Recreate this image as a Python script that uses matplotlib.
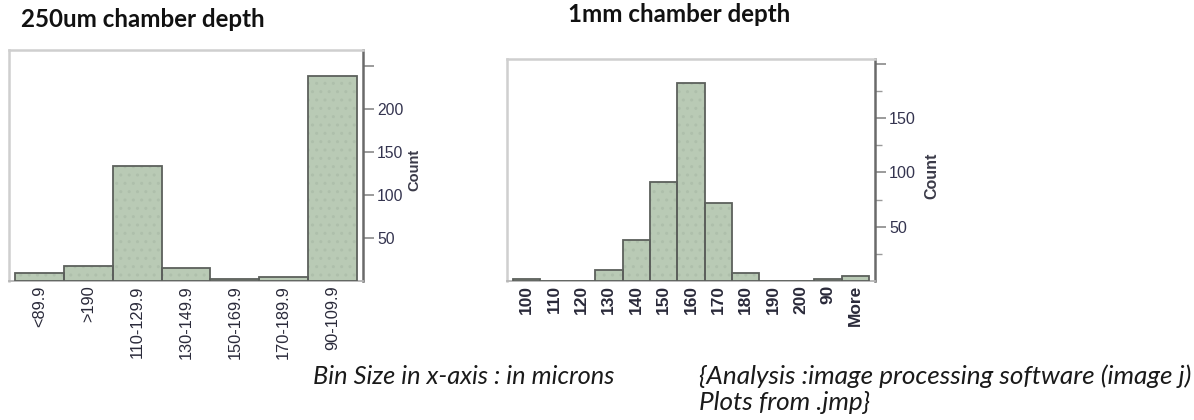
import matplotlib
matplotlib.use("Agg")
import matplotlib.pyplot as plt
from matplotlib.ticker import FixedLocator, NullFormatter

# ---------------- data ----------------
left_title = "250um chamber depth"
left_bins = ["<89.9", ">190", "110-129.9", "130-149.9", "150-169.9", "170-189.9", "90-109.9"]
left_counts = [10, 18, 134, 16, 3, 5, 238]
left_yticks = [50, 100, 150, 200, 250]
left_ylabels = ["50", "100", "150", "200", ""]

right_title = "1mm chamber depth"
right_bins = ["100", "110", "120", "130", "140", "150", "160", "170", "180", "190", "200", "90", "More"]
right_counts = [2, 0, 0, 10, 38, 91, 182, 72, 7, 0, 0, 2, 5]
right_yticks = [50, 100, 150, 200]
right_ylabels = ["50", "100", "150", ""]
right_minor = [25, 75, 125, 175]

note_left = "Bin Size in x-axis : in microns"
note_right_1 = "{Analysis :image processing software (image j)"
note_right_2 = "Plots from .jmp}"

# ---------------- figure ----------------
W, H = 1194, 420
DPI = 100
fig = plt.figure(figsize=(W / DPI, H / DPI), dpi=DPI)
fig.patch.set_facecolor("white")

BAR_FACE = "#b9cab5"
BAR_EDGE = "#5c605c"
FRAME = "#cfcfcf"
AXIS = "#6a6a6a"
TXT = "#34344f"
SANS = ["Liberation Sans", "DejaVu Sans"]


def px_axes(x0, x1, ytop, ybot):
    return fig.add_axes([x0 / W, 1 - ybot / H, (x1 - x0) / W, (ybot - ytop) / H])


def draw_hist(ax, labels, counts, xmargin, ytop, yticks, ylabels, minor, xbold, xfs, yfs):
    n = len(labels)
    pos = list(range(n))
    ax.bar(pos, counts, width=1.0, color=BAR_FACE, edgecolor="none", zorder=2)
    ax.bar(pos, counts, width=1.0, color="none", edgecolor="#aebfab",
           hatch="..", linewidth=0, zorder=2.5)
    ax.bar(pos, counts, width=1.0, color="none", edgecolor=BAR_EDGE,
           linewidth=1.3, zorder=3)
    ax.set_xlim(-0.5 - xmargin, n - 0.5 + xmargin)
    ax.set_ylim(0, ytop)
    ax.set_xticks(pos)
    ax.set_xticklabels(labels, rotation=90, fontsize=xfs, family=SANS,
                       color="#2a2a3a", fontweight="bold" if xbold else "normal",
                       va="top", ha="center")
    ax.tick_params(axis="x", length=0, pad=3)
    ax.yaxis.tick_right()
    ax.set_yticks(yticks)
    ax.set_yticklabels(ylabels, fontsize=yfs, family=SANS, color=TXT)
    ax.tick_params(axis="y", which="major", direction="out", length=8,
                   width=1.2, color="#8a8a8a", pad=2)
    if minor:
        ax.yaxis.set_minor_locator(FixedLocator(minor))
        ax.yaxis.set_minor_formatter(NullFormatter())
        ax.tick_params(axis="y", which="minor", direction="out", length=5,
                       width=1.0, color="#9a9a9a")
    for s in ("top", "left"):
        ax.spines[s].set_color(FRAME)
        ax.spines[s].set_linewidth(1.8)
    ax.spines["bottom"].set_color("#b5b5b5")
    ax.spines["bottom"].set_linewidth(1.3)
    ax.spines["right"].set_color(AXIS)
    ax.spines["right"].set_linewidth(1.8)
    ax.set_facecolor("white")


# left histogram: frame 9..363 px, top 50, baseline 281.4
axL = px_axes(9, 363, 50, 281.4)
draw_hist(axL, left_bins, left_counts, 0.123, 268.4, left_yticks, left_ylabels,
          None, False, 11.8, 11.3)

# right histogram: frame 507..875 px, top 58.5, baseline 281
axR = px_axes(507, 875, 58.5, 281)
draw_hist(axR, right_bins, right_counts, 0.22, 205, right_yticks, right_ylabels,
          right_minor, True, 12.5, 11.6)

fig.text(414 / W, 1 - 170 / H, "Count", rotation=90, ha="center", va="center",
         fontsize=10.5, fontweight="bold", family=SANS, color="#3a3a48")
fig.text(932 / W, 1 - 176 / H, "Count", rotation=90, ha="center", va="center",
         fontsize=11.5, fontweight="bold", family=SANS, color="#3a3a48")

# ---------------- free text, fitted to measured widths ----------------
canvas = fig.canvas


def fitted(x_px, base_px, s, target_w, **kw):
    t = fig.text(x_px / W, 1 - base_px / H, s, ha="left", va="baseline", **kw)
    r = canvas.get_renderer()
    w = t.get_window_extent(renderer=r).width
    t.set_fontsize(t.get_fontsize() * target_w / w)
    return t


fitted(21, 26.7, left_title, 246, fontsize=14, fontweight="bold",
       family=["Lato", "DejaVu Sans"], color="#111111")
fitted(568, 21.5, right_title, 224, fontsize=14, fontweight="bold",
       family=["Lato", "DejaVu Sans"], color="#111111")
fitted(313, 383.5, note_left, 300, fontsize=12, style="italic",
       family=["Lato", "DejaVu Sans"], color="#1a1a1a")
fitted(699, 383.5, note_right_1, 491, fontsize=12, style="italic",
       family=["Lato", "DejaVu Sans"], color="#1a1a1a")
fitted(699, 410, note_right_2, 171, fontsize=12, style="italic",
       family=["Lato", "DejaVu Sans"], color="#1a1a1a")

fig.savefig("out.png", dpi=DPI, facecolor="white")
